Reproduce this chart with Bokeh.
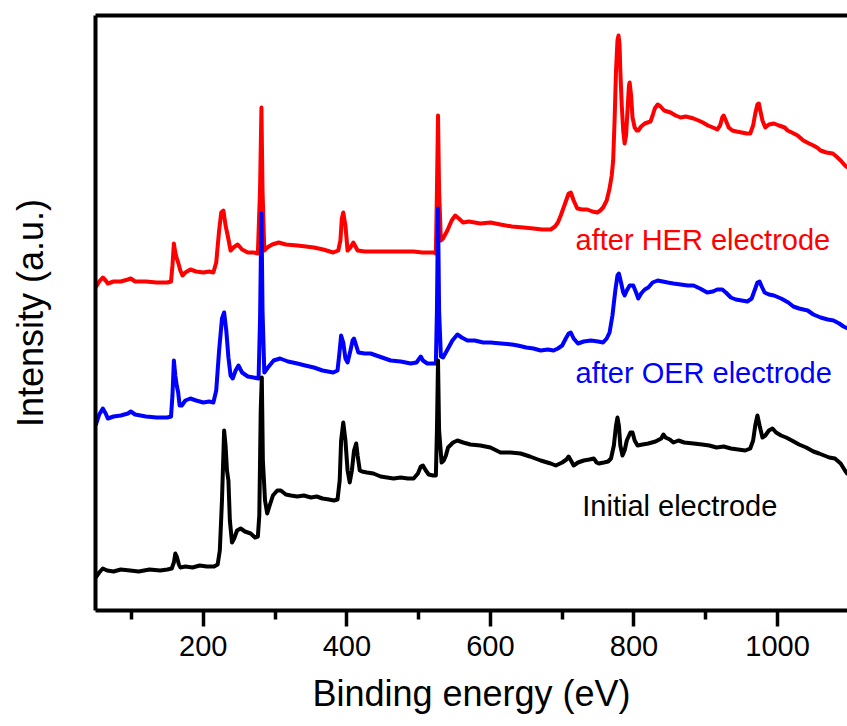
from bokeh.plotting import figure
from bokeh.models import Range1d, LinearAxis, FixedTicker, Label
from bokeh.embed import file_html
from bokeh.resources import INLINE

# ---------------- data (binding energy in eV, intensity in a.u.) ----------------
black_ev = [50, 55, 60, 66, 75, 85, 98, 110, 125, 140,
            150, 156, 159, 161, 163, 166, 168, 175, 185, 195,
            205, 215, 220, 223, 226, 229, 231, 233, 235, 237,
            240, 243, 247, 252, 258, 266, 272, 276, 278, 280,
            281.5, 283, 286, 289, 292, 297, 303, 308, 315, 322,
            331, 340, 350, 358, 366, 375, 382, 387, 390, 392,
            395, 398, 401, 404, 407, 410, 413, 415, 418, 421,
            428, 437, 447, 456, 465, 475, 485, 493, 499, 503,
            506, 510, 514, 520, 524, 525.5, 527, 528.5, 532, 535,
            538, 541, 548, 554, 562, 572, 586, 600, 614, 628,
            642, 655, 670, 684, 691, 700, 706, 709, 713, 716,
            722, 730, 738, 744, 748, 751, 758, 764, 768, 772,
            775, 777, 779, 781, 784, 787, 790, 795, 798, 801,
            805, 812, 820, 830, 838, 841, 844, 850, 855, 862,
            870, 883, 895, 905, 915, 925, 935, 945, 955, 962,
            966, 969, 972, 975, 979, 983, 988, 993, 998, 1005,
            1012, 1020, 1030, 1040, 1050, 1058, 1065, 1072, 1080, 1088,
            1094, 1098]
black_int = [33, 38, 42, 40, 39, 41, 40, 39, 41, 40,
             41, 42, 48, 57, 54, 46, 43, 44, 43, 45,
             44, 44, 46, 60, 110, 180, 165, 140, 130, 90,
             68, 72, 80, 82, 79, 77, 73, 74, 95, 200,
             233, 150, 110, 97, 104, 115, 120, 120, 116, 115,
             114, 115, 113, 114, 112, 111, 110, 111, 130, 170,
             188, 170, 140, 128, 140, 160, 167, 155, 140, 139,
             138, 137, 134, 133, 132, 133, 132, 132, 137, 144,
             145, 140, 136, 135, 135, 180, 250, 180, 148, 150,
             155, 163, 168, 170, 168, 166, 165, 163, 158, 158,
             157, 154, 150, 147, 145, 148, 151, 154, 149, 145,
             148, 150, 151, 152, 148, 147, 148, 149, 152, 165,
             185, 193, 185, 165, 155, 160, 170, 178, 178, 170,
             165, 166, 167, 169, 172, 176, 173, 171, 168, 170,
             168, 167, 166, 165, 163, 164, 162, 161, 160, 162,
             170, 185, 195, 185, 173, 175, 180, 182, 178, 175,
             173, 170, 166, 163, 159, 157, 155, 153, 152, 147,
             140, 136]

red_ev = [50, 55, 60, 64, 67, 75, 85, 95, 99, 105,
          120, 135, 150, 155, 157, 159, 161, 163, 165, 168,
          171, 175, 182, 190, 200, 208, 214, 218, 222, 225,
          228, 231, 234, 238, 242, 248, 254, 262, 270, 276,
          279, 281, 282.5, 285, 289, 296, 305, 315, 331, 343,
          354, 367, 381, 388, 391, 393, 395, 398, 401, 405,
          409, 412, 415, 425, 440, 455, 470, 485, 493, 505,
          515, 521, 524, 525.5, 527, 528.5, 531, 534, 540, 546,
          551, 556, 562, 570, 586, 600, 614, 630, 646, 660,
          672, 684, 690, 694, 698, 704, 709, 712, 716, 721,
          728, 735, 742, 749, 753, 757, 762, 766, 769, 771,
          773, 775, 777, 778.5, 780, 781, 783, 785, 787, 789,
          791, 793, 794, 796, 798, 801, 804, 806, 810, 815,
          819, 823, 826, 829, 833, 837, 842, 851, 858, 865,
          872, 878, 883, 890, 896, 903, 910, 916, 920, 923,
          925, 928, 932, 937, 943, 950, 957, 962, 966, 969,
          972, 974, 976, 979, 983, 988, 995, 1002, 1010, 1014,
          1020, 1028, 1036, 1044, 1050, 1055, 1060, 1068, 1077, 1082,
          1088, 1094, 1098]
red_int = [323, 329, 333, 330, 327, 329, 329, 331, 332, 329,
           329, 328, 328, 329, 345, 367, 358, 352, 348, 340,
           335, 338, 341, 339, 338, 339, 338, 348, 380, 398,
           400, 385, 375, 360, 363, 366, 361, 358, 358, 357,
           420, 503, 420, 360, 363, 366, 368, 366, 365, 364,
           363, 361, 358, 360, 370, 392, 398, 385, 360, 363,
           368, 364, 360, 359, 359, 359, 359, 359, 359, 358,
           358, 358, 357, 420, 495, 420, 370, 372, 380, 390,
           395, 392, 388, 389, 387, 388, 386, 384, 383, 382,
           381, 381, 384, 388, 395, 407, 417, 418, 410, 402,
           401, 401, 399, 398, 400, 403, 410, 422, 435, 450,
           490, 540, 570, 575, 565, 540, 505, 480, 467, 475,
           500, 525, 528, 515, 493, 483, 480, 480, 484, 487,
           488, 489, 495, 502, 506, 504, 500, 498, 495, 493,
           494, 493, 492, 490, 488, 485, 483, 481, 485, 493,
           495, 490, 483, 480, 479, 478, 477, 477, 485, 497,
           506, 507, 500, 490, 483, 486, 487, 485, 483, 480,
           478, 475, 470, 467, 465, 463, 460, 458, 457, 454,
           450, 445, 443]

blue_ev = [50, 55, 60, 64, 67, 75, 85, 95, 99, 105,
           120, 135, 150, 155, 157, 159, 161, 163, 165, 167,
           170, 175, 182, 190, 200, 208, 214, 218, 222, 226,
           229, 232, 235, 238, 241, 245, 249, 254, 262, 270,
           277, 279, 281, 282.5, 285, 290, 298, 307, 318, 331,
           342, 354, 366, 381, 387, 390, 392, 395, 398, 401,
           405, 408, 410, 413, 416, 425, 433, 445, 461, 475,
           489, 497, 501, 503, 506, 512, 518, 524, 525.5, 527,
           528.5, 531, 534, 541, 547, 554, 560, 568, 578, 590,
           600, 615, 630, 638, 650, 660, 670, 680, 688, 694,
           700, 705, 709, 712, 716, 722, 730, 740, 750, 757,
           762, 766, 770, 774, 777, 779, 782, 785, 787, 790,
           794, 799, 803, 806, 810, 815, 820, 826, 833, 840,
           847, 855, 865, 875, 883, 892, 902, 910, 916, 923,
           928, 935, 942, 950, 958, 964, 968, 972, 975, 978,
           982, 988, 995, 1005, 1015, 1022, 1030, 1042, 1050, 1060,
           1070, 1078, 1086, 1092, 1098]
blue_int = [185, 196, 202, 197, 192, 194, 195, 197, 199, 196,
            194, 193, 193, 194, 215, 250, 235, 225, 218, 205,
            205, 210, 212, 210, 208, 209, 208, 220, 260, 292,
            298, 280, 253, 235, 232, 240, 245, 238, 234, 233,
            232, 290, 397, 300, 238, 243, 250, 252, 249, 247,
            245, 243, 240, 238, 240, 260, 275, 268, 252, 248,
            260, 270, 272, 265, 258, 257, 257, 254, 250, 249,
            247, 248, 252, 254, 250, 247, 247, 247, 300, 402,
            300, 254, 253, 262, 270, 276, 273, 270, 270, 268,
            268, 267, 266, 265, 263, 262, 260, 261, 260, 262,
            265, 272, 277, 278, 272, 267, 269, 270, 269, 268,
            272, 278, 295, 320, 335, 337, 328, 318, 315, 320,
            325, 325, 318, 312, 317, 321, 323, 328, 330, 329,
            328, 327, 326, 325, 325, 322, 318, 319, 321, 321,
            318, 313, 311, 310, 309, 312, 320, 328, 329, 324,
            318, 316, 315, 312, 308, 304, 302, 300, 296, 293,
            291, 290, 287, 284, 282]

major_ticks = [200, 400, 600, 800, 1000]
minor_ticks = [100, 300, 500, 700, 900]

series_labels = ["after HER electrode", "after OER electrode", "Initial electrode"]
x_title = "Binding energy (eV)"
y_title = "Intensity (a.u.)"

# ---------------- figure ----------------
FONT = "Liberation Sans"

p = figure(width=847, height=726,
           x_range=Range1d(49.8, 1097.5), y_range=Range1d(0, 595),
           output_backend="svg", toolbar_location=None,
           x_axis_location=None, y_axis_location=None,
           min_border_left=95, min_border_right=0,
           min_border_top=15, min_border_bottom=116)
p.outline_line_color = None
p.xgrid.visible = False
p.ygrid.visible = False
p.background_fill_color = "white"
p.border_fill_color = "white"

p.line(red_ev, red_int, line_color="#ff0000", line_width=4, line_join="round")
p.line(blue_ev, blue_int, line_color="#0000ff", line_width=4, line_join="round")
p.line(black_ev, black_int, line_color="#000000", line_width=4, line_join="round")

# bottom axis
xaxis = LinearAxis(ticker=FixedTicker(ticks=major_ticks, minor_ticks=minor_ticks),
                   axis_label=x_title)
xaxis.axis_line_width = 4
xaxis.axis_line_color = "black"
xaxis.major_tick_line_width = 3.5
xaxis.minor_tick_line_width = 3.5
xaxis.major_tick_out = 16
xaxis.major_tick_in = 0
xaxis.minor_tick_out = 9
xaxis.minor_tick_in = 0
xaxis.major_label_text_font = FONT
xaxis.major_label_text_font_size = "29px"
xaxis.major_label_text_color = "black"
xaxis.major_label_standoff = 9
xaxis.axis_label_text_font = FONT
xaxis.axis_label_text_font_size = "36px"
xaxis.axis_label_text_font_style = "normal"
xaxis.axis_label_text_color = "black"
xaxis.axis_label_standoff = 14
p.add_layout(xaxis, "below")

# left frame line (no ticks)
yaxis = LinearAxis(ticker=FixedTicker(ticks=[]))
yaxis.axis_line_width = 4
yaxis.axis_line_color = "black"
yaxis.major_tick_out = 0
yaxis.major_tick_in = 0
yaxis.minor_tick_out = 0
yaxis.minor_tick_in = 0
yaxis.major_label_standoff = 0
p.add_layout(yaxis, "left")

# axis without a line, carrying the y title
ylab = LinearAxis(ticker=FixedTicker(ticks=[]), axis_label=y_title)
ylab.axis_line_color = None
ylab.major_tick_out = 0
ylab.major_tick_in = 0
ylab.minor_tick_out = 0
ylab.minor_tick_in = 0
ylab.major_label_standoff = 0
ylab.axis_label_text_font = FONT
ylab.axis_label_text_font_size = "36px"
ylab.axis_label_text_font_style = "normal"
ylab.axis_label_text_color = "black"
ylab.axis_label_standoff = 45
p.add_layout(ylab, "left")

# top frame line
top = LinearAxis(ticker=FixedTicker(ticks=[]))
top.axis_line_width = 4
top.axis_line_color = "black"
top.major_tick_out = 0
top.major_tick_in = 0
top.minor_tick_out = 0
top.minor_tick_in = 0
top.major_label_standoff = 0
p.add_layout(top, "above")

# series annotations
for txt, col, xx, yy in [(series_labels[0], "#ff0000", 718.6, 371),
                         (series_labels[1], "#0000ff", 718.6, 238),
                         (series_labels[2], "#000000", 728.0, 105)]:
    p.add_layout(Label(x=xx, y=yy, text=txt, text_color=col,
                       text_font=FONT, text_font_size="29px",
                       text_baseline="middle", text_align="left"))

open("out.html", "w").write(file_html(p, INLINE))
